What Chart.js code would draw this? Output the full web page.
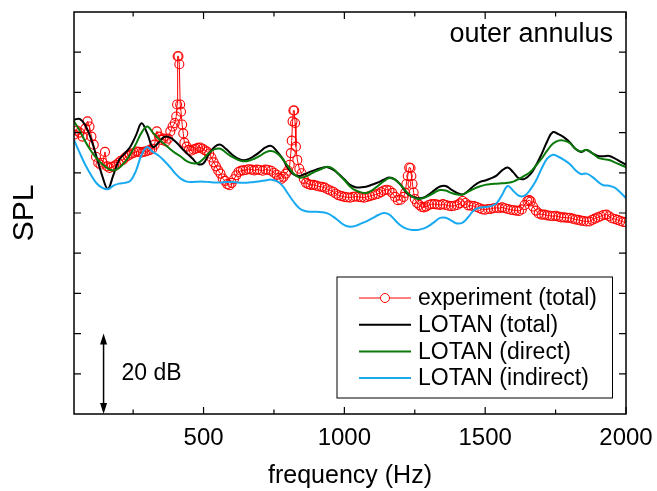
<!DOCTYPE html>
<html>
<head>
<meta charset="utf-8">
<script src="https://cdn.jsdelivr.net/npm/chart.js@4.4.1/dist/chart.umd.min.js"></script>
<style>
    html, body { margin: 0; padding: 0; background: #fff; }
    #wrap { width: 657px; height: 491px; }
</style>
</head>
<body>
<div id="wrap"><canvas id="splChart" width="657" height="491"></canvas></div>
<script>
// Measured spectrum (red circles), frequency in Hz, SPL in arbitrary dB units
const expFreq = [
    40, 50, 60, 70, 80, 88, 95, 102, 110, 118, 126, 134, 142, 150, 158, 166, 174, 182, 190, 198,
    206, 214, 222, 230, 238, 246, 254, 262, 270, 278, 286, 294, 302, 310, 318, 326, 334, 342, 350, 358,
    366, 374, 382, 390, 398, 403, 406, 408, 411, 414, 417, 420, 424, 428, 432, 440, 448, 456, 464, 472,
    480, 488, 496, 504, 512, 520, 528, 536, 544, 552, 560, 568, 576, 584, 592, 600, 608, 616, 624, 632,
    640, 650, 660, 670, 680, 690, 700, 710, 720, 730, 740, 750, 760, 768, 776, 784, 792, 800, 806, 810,
    813, 816, 819, 822, 825, 828, 833, 840, 848, 856, 864, 872, 880, 890, 900, 910, 920, 930, 940, 950,
    960, 970, 980, 990, 1000, 1010, 1020, 1030, 1040, 1050, 1060, 1070, 1080, 1090, 1100, 1110, 1120, 1130, 1140, 1150,
    1160, 1170, 1180, 1190, 1200, 1210, 1216, 1220, 1225, 1230, 1235, 1238, 1242, 1246, 1250, 1258, 1266, 1274, 1282, 1290,
    1300, 1310, 1320, 1330, 1340, 1350, 1360, 1370, 1380, 1390, 1400, 1410, 1420, 1430, 1440, 1450, 1460, 1470, 1480, 1490,
    1500, 1510, 1520, 1530, 1540, 1550, 1560, 1570, 1580, 1590, 1600, 1610, 1620, 1630, 1640, 1650, 1656, 1662, 1670, 1680,
    1690, 1700, 1710, 1720, 1730, 1740, 1750, 1760, 1770, 1780, 1790, 1800, 1810, 1820, 1830, 1840, 1850, 1860, 1870, 1880,
    1890, 1900, 1910, 1920, 1930, 1940, 1950, 1960, 1970, 1980, 1990, 2000
];
const expSpl = [
    69.5, 70.5, 70, 69, 71, 72.8, 71.5, 69, 67, 64, 62.5, 62, 62.5, 65.2, 61.6, 61.2, 61.5, 61.6, 62, 62.5,
    63, 63.2, 63.8, 64.2, 64.5, 64.8, 65, 65.3, 65.2, 65, 65.2, 65.3, 65.5, 65.7, 66, 67, 70.3, 69, 68.2, 68.5,
    67.8, 68.5, 70.3, 71.5, 72.4, 74, 77, 89, 89, 87, 77, 75.2, 72, 69.8, 67.5, 66.5, 65.7, 65.5, 65.8, 66,
    66.2, 66.3, 66, 65.6, 65.3, 64.8, 63.8, 62.6, 61.6, 60.6, 59.8, 58.6, 58, 57.2, 56.9, 57.5, 58.4, 59.4, 60.2, 60.5,
    60.6, 60.7, 60.9, 60.8, 60.6, 60.8, 60.7, 60.5, 60.8, 60.7, 60.5, 60, 59.5, 58.8, 58.5, 59, 59.8, 60.5, 62, 64.9,
    68, 72.8, 75.5, 75.5, 72.4, 66.5, 63.2, 61, 59.9, 58.5, 57.5, 57.2, 57, 57, 56.8, 56.6, 56.5, 56.3, 55.9, 55.6,
    55.3, 54.8, 54.4, 54.2, 54, 53.9, 53.8, 54, 54.1, 54, 53.9, 53.8, 54, 54.2, 54.4, 54.6, 54.8, 55.2, 55.6, 55.8,
    55.6, 55, 54, 53.2, 53.3, 54, 55, 57.2, 59.2, 61.3, 61.2, 59.2, 57.2, 55.1, 53.5, 52.5, 52, 51.5, 51.4, 51.6,
    52, 52.2, 52.2, 52.1, 52, 52.2, 52, 51.8, 51.7, 51.8, 52, 52.4, 53, 52.5, 51.9, 51.8, 51.7, 51.5, 51.2, 50.9,
    50.8, 51, 51, 51.2, 51.3, 51.2, 51.4, 51.2, 51, 50.8, 50.7, 50.6, 50.5, 50.9, 52, 53, 53.2, 52.9, 51.6, 50.6,
    49.9, 49.6, 49.6, 49.4, 49.3, 49.2, 49.3, 49.1, 48.9, 48.9, 48.8, 48.8, 48.6, 48.4, 48.3, 48.1, 48, 47.9, 47.9, 48.3,
    48.6, 48.9, 49.2, 49.5, 49.6, 49.2, 48.7, 48.5, 48.3, 48, 47.8, 47.7
];

// LOTAN model curves, common frequency grid
const modelFreq = [
    40, 60, 80, 100, 120, 140, 160, 180, 200, 220, 240, 260, 280, 300, 320, 340, 360, 380, 400, 420,
    440, 460, 480, 500, 520, 540, 560, 580, 600, 620, 640, 660, 680, 700, 720, 740, 760, 780, 800, 820,
    840, 860, 880, 900, 920, 940, 960, 980, 1000, 1020, 1040, 1060, 1080, 1100, 1120, 1140, 1160, 1180, 1200, 1220,
    1240, 1260, 1280, 1300, 1320, 1340, 1360, 1380, 1400, 1420, 1440, 1460, 1480, 1500, 1520, 1540, 1560, 1580, 1600, 1620,
    1640, 1660, 1680, 1700, 1720, 1740, 1760, 1780, 1800, 1820, 1840, 1860, 1880, 1900, 1920, 1940, 1960, 1980, 2000
];
const lotanTotal = [
    73.2, 73.4, 71.8, 68.5, 64, 59.3, 56, 59.5, 63.2, 64.8, 66.5, 69.3, 72.3, 69.8, 66.4, 67.5, 68.9, 68.8, 67.8, 66.3,
    64.9, 63.6, 62.2, 62.4, 64.8, 66.5, 67, 65.9, 64.6, 63.6, 63.1, 63.4, 64.2, 65.2, 66.3, 66.7, 65.4, 63.6, 61.2, 59.6,
    59.2, 59.7, 60.3, 60.8, 61.2, 61.4, 60.8, 59.7, 58.4, 57, 56.4, 56.4, 56.6, 57.1, 57.6, 58.3, 58.8, 58.3, 57, 55.1,
    54.1, 53.7, 53.8, 54.6, 55.7, 56.6, 56.7, 55.8, 55, 54.6, 55.5, 56.8, 57.7, 58.1, 58.6, 59.3, 60.6, 61.3, 60.1, 58.6,
    58.5, 59.6, 61.8, 64.6, 67.8, 70.1, 69.6, 68.8, 67.6, 66, 65.2, 65.7, 64.9, 64.2, 64.1, 64.2, 63.6, 62.8, 62
];
const lotanDirect = [
    72.8, 70.5, 67.8, 65.5, 63.6, 62.2, 61.1, 60.6, 61.2, 62.6, 64.6, 67.2, 70, 71.5, 70, 68.5, 67.2, 66, 64.9, 64,
    62.9, 62.4, 62.4, 63.5, 65, 65.9, 66, 65, 64, 63.3, 62.9, 63, 63.5, 64.2, 65.1, 65.4, 64.9, 63.5, 61.6, 59.8,
    58.8, 59, 59.7, 60.4, 61, 61.5, 61, 59.6, 58.2, 56.6, 55.6, 55.1, 55, 55.7, 56.8, 57.9, 58.7, 58.3, 57, 55.3,
    54.1, 53.5, 53.7, 54.3, 55.1, 55.7, 55.6, 55, 54.6, 54.6, 55.3, 56, 56.6, 57, 57.2, 57.3, 57.4, 57.5, 57.8, 58.5,
    59.3, 60.2, 61.8, 63.5, 65.5, 67.2, 68, 68, 67.4, 66, 65.3, 65.7, 64.9, 63.8, 63.4, 63.2, 62.6, 62, 61.4
];
const lotanIndirect = [
    68.2, 65, 62, 59.5, 57.4, 56.3, 55.9, 56.8, 57.3, 57.5, 58, 60.5, 64.5, 66.4, 65.2, 64.3, 63, 61.5, 59.8, 58.5,
    57.8, 57.7, 57.8, 57.8, 57.7, 57.6, 57.6, 57.7, 57.7, 57.6, 57.5, 57.6, 57.7, 57.9, 58.1, 58.3, 57.9, 56.8, 54.8, 52.8,
    51.2, 50.5, 50.3, 50.3, 50.2, 49.9, 49.1, 48, 47, 46.6, 46.8, 47.4, 48, 48.7, 49.5, 50, 49.6, 48.2, 46.9, 46.1,
    45.8, 45.8, 46.1, 46.8, 47.8, 48.8, 48.8, 48.1, 47.4, 47.6, 49, 50.7, 51.3, 51.5, 51.7, 52.4, 54.5, 56.7, 55.5, 54.3,
    54.3, 55.8, 58, 61, 63.5, 64.5, 64, 63.2, 62.2, 60.7, 59.7, 59.8, 59, 57.8, 56.9, 56.8, 56.3, 55.1, 53.7
];

const xMajorTicks = [500, 1000, 1500, 2000];
const xMinorTicks = [250, 750, 1250, 1750];
const yTicks = [10, 20, 30, 40, 50, 60, 70, 80, 90];
const scaleBar = { freq: 145, from: 0, to: 20, label: '20 dB' };

const FONT = "'Liberation Sans', Arial, sans-serif";
const toPoints = (xs, ys) => xs.map((f, i) => ({ x: f, y: ys[i] }));

// Draws the frame, inward ticks, legend, panel label and the 20 dB bar
const decorations = {
    id: 'decorations',
    afterDatasetsDraw(chart) {
        const { ctx, chartArea: a, scales: { x, y } } = chart;
        ctx.save();

        ctx.strokeStyle = '#000';
        ctx.lineWidth = 1.5;
        ctx.strokeRect(a.left, a.top, a.right - a.left, a.bottom - a.top);

        ctx.lineWidth = 1.2;
        ctx.beginPath();
        const xTick = (v, len) => {
            const px = x.getPixelForValue(v);
            ctx.moveTo(px, a.bottom); ctx.lineTo(px, a.bottom - len);
            ctx.moveTo(px, a.top); ctx.lineTo(px, a.top + len);
        };
        xMajorTicks.forEach(v => xTick(v, 7));
        xMinorTicks.forEach(v => xTick(v, 4.5));
        yTicks.forEach(v => {
            const py = y.getPixelForValue(v);
            ctx.moveTo(a.left, py); ctx.lineTo(a.left + 7, py);
            ctx.moveTo(a.right, py); ctx.lineTo(a.right - 7, py);
        });
        ctx.stroke();

        // panel label
        ctx.fillStyle = '#000';
        ctx.font = `27px ${FONT}`;
        ctx.textAlign = 'right';
        ctx.textBaseline = 'alphabetic';
        ctx.fillText('outer annulus', a.right - 13, a.top + 30);

        // 20 dB scale bar
        const bx = x.getPixelForValue(scaleBar.freq);
        const y0 = y.getPixelForValue(scaleBar.from);
        const y1 = y.getPixelForValue(scaleBar.to);
        ctx.lineWidth = 1.5;
        ctx.beginPath();
        ctx.moveTo(bx, y0 - 8); ctx.lineTo(bx, y1 + 8);
        ctx.stroke();
        ctx.beginPath();
        ctx.moveTo(bx, y1); ctx.lineTo(bx - 3.5, y1 + 11); ctx.lineTo(bx + 3.5, y1 + 11); ctx.closePath();
        ctx.moveTo(bx, y0); ctx.lineTo(bx - 3.5, y0 - 11); ctx.lineTo(bx + 3.5, y0 - 11); ctx.closePath();
        ctx.fill();
        ctx.font = `23px ${FONT}`;
        ctx.textAlign = 'left';
        ctx.textBaseline = 'middle';
        ctx.fillText(scaleBar.label, bx + 18, (y0 + y1) / 2);

        // legend
        const box = { left: a.right - 289, top: a.bottom - 137, width: 275.5, height: 121 };
        ctx.lineWidth = 1;
        ctx.strokeRect(box.left, box.top, box.width, box.height);
        chart.data.datasets.forEach((ds, i) => {
            const ry = box.top + 21 + i * 26.7;
            const x0 = box.left + 22, x1 = box.left + 74;
            ctx.strokeStyle = ds.borderColor;
            ctx.lineWidth = ds.borderWidth;
            ctx.beginPath();
            if (ds.pointRadius > 0) {
                const cx = (x0 + x1) / 2;
                ctx.moveTo(x0, ry); ctx.lineTo(cx - ds.pointRadius, ry);
                ctx.moveTo(cx + ds.pointRadius, ry); ctx.lineTo(x1, ry);
                ctx.stroke();
                ctx.beginPath();
                ctx.arc(cx, ry, ds.pointRadius, 0, Math.PI * 2);
            } else {
                ctx.moveTo(x0, ry); ctx.lineTo(x1, ry);
            }
            ctx.stroke();
            ctx.fillStyle = '#000';
            ctx.font = `23px ${FONT}`;
            ctx.fillText(ds.label, box.left + 81, ry + 1);
        });

        ctx.restore();
    }
};

Chart.defaults.color = '#000';
Chart.defaults.font.family = FONT;

new Chart(document.getElementById('splChart'), {
    type: 'line',
    data: {
        datasets: [
            {
                label: 'experiment (total)',
                data: toPoints(expFreq, expSpl),
                borderColor: '#ff0000',
                borderWidth: 1,
                pointRadius: 4.5,
                pointBorderWidth: 1.1,
                pointBorderColor: '#ff0000',
                pointBackgroundColor: 'rgba(0,0,0,0)',
                tension: 0,
                order: 4
            },
            {
                label: 'LOTAN (total)',
                data: toPoints(modelFreq, lotanTotal),
                borderColor: '#000000',
                borderWidth: 2,
                pointRadius: 0,
                tension: 0.4,
                order: 3
            },
            {
                label: 'LOTAN (direct)',
                data: toPoints(modelFreq, lotanDirect),
                borderColor: '#0a7a0a',
                borderWidth: 2,
                pointRadius: 0,
                tension: 0.4,
                order: 2
            },
            {
                label: 'LOTAN (indirect)',
                data: toPoints(modelFreq, lotanIndirect),
                borderColor: '#18aaf0',
                borderWidth: 2,
                pointRadius: 0,
                tension: 0.4,
                order: 1
            }
        ]
    },
    options: {
        responsive: false,
        animation: false,
        layout: { padding: { top: 12, right: 31, left: 0, bottom: 0 } },
        plugins: { legend: { display: false }, tooltip: { enabled: false } },
        scales: {
            x: {
                type: 'linear',
                min: 40,
                max: 2000,
                grid: { display: false, drawTicks: false },
                border: { display: false },
                afterBuildTicks: scale => { scale.ticks = xMajorTicks.map(v => ({ value: v })); },
                afterFit: scale => {
                    scale.height = 77;
                    scale.paddingLeft = 0;
                    scale.paddingRight = 0;
                },
                ticks: {
                    padding: 10,
                    maxRotation: 0,
                    font: { size: 24 },
                    callback: v => String(v)
                },
                title: {
                    display: true,
                    text: 'frequency (Hz)',
                    font: { size: 25 },
                    padding: { top: 0, bottom: 0 }
                }
            },
            y: {
                min: 0,
                max: 100,
                grid: { display: false, drawTicks: false },
                border: { display: false },
                ticks: { display: false },
                afterFit: scale => {
                    scale.width = 74;
                    scale.paddingTop = 0;
                    scale.paddingBottom = 0;
                },
                title: {
                    display: true,
                    text: 'SPL',
                    font: { size: 30 },
                    padding: { top: 7, bottom: 0 }
                }
            }
        }
    },
    plugins: [decorations]
});
</script>
</body>
</html>
